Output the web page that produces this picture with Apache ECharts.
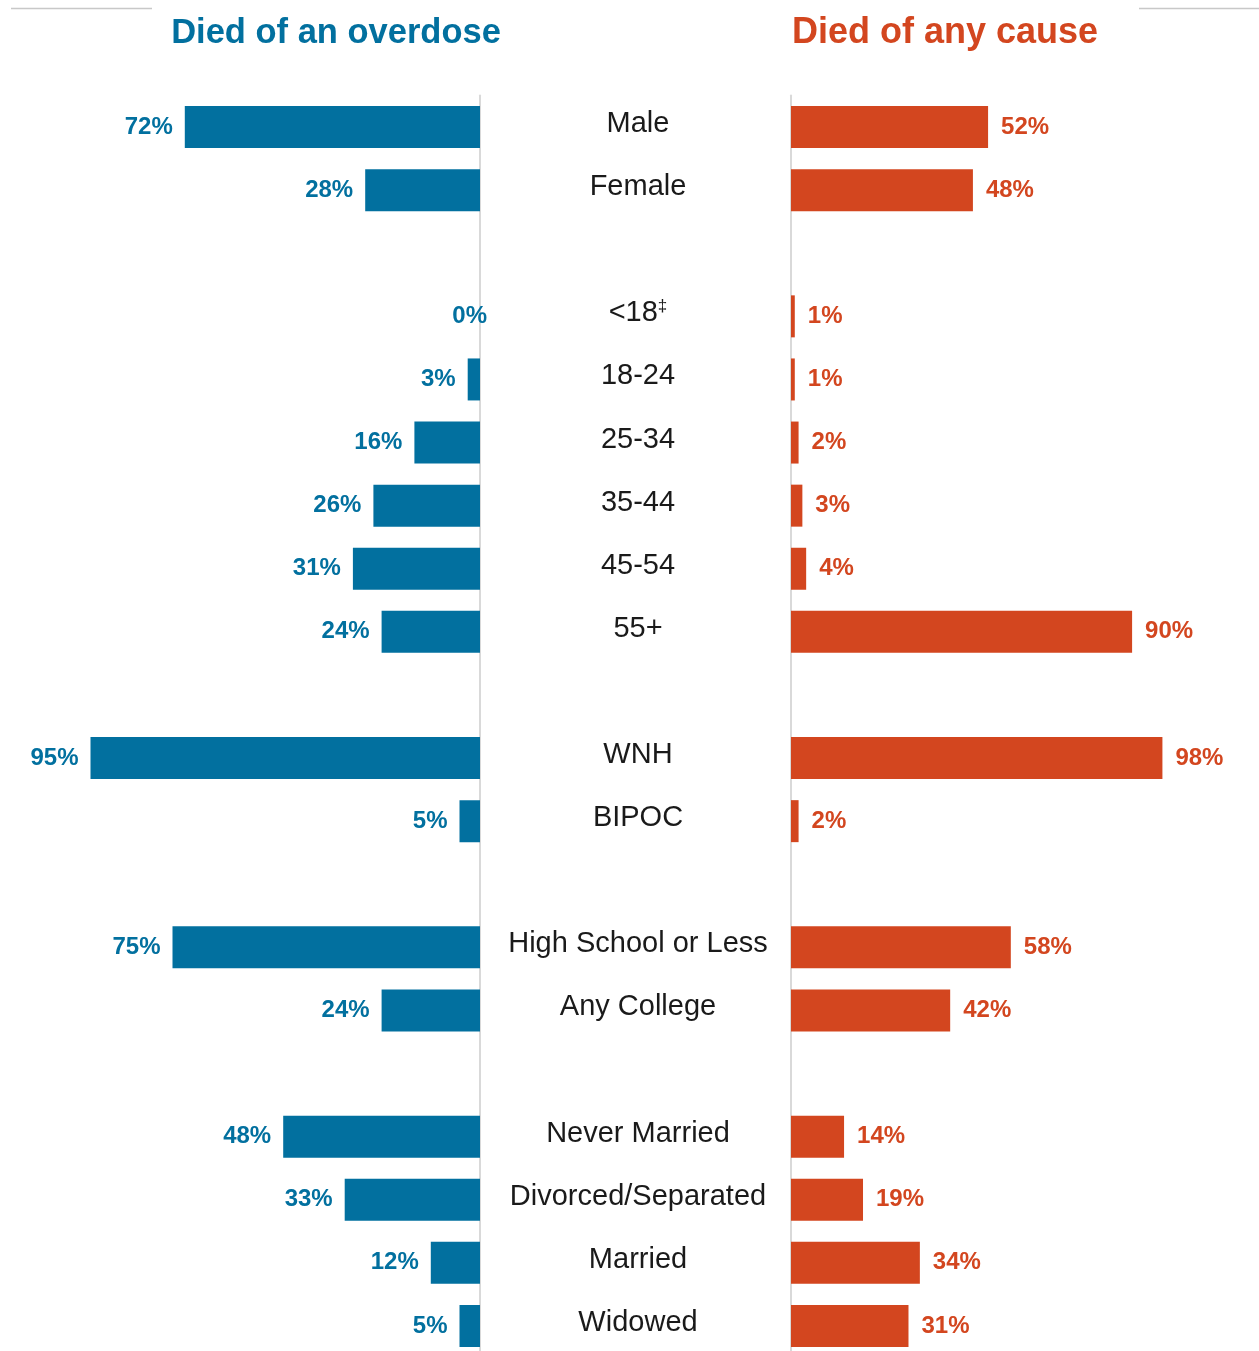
<!DOCTYPE html>
<html>
<head>
<meta charset="utf-8">
<script src="https://cdn.jsdelivr.net/npm/echarts@6/dist/echarts.min.js"></script>
<style>
html,body{margin:0;padding:0;background:#fff;}
#chart{width:1259px;height:1351px;}
</style>
</head>
<body>
<div id="chart"></div>
<script>
// Categories (null = spacer row between groups)
const categories = ['Male','Female',null,'<18‡','18-24','25-34','35-44','45-54','55+',null,'WNH','BIPOC',null,'High School or Less','Any College',null,'Never Married','Divorced/Separated','Married','Widowed'];
// Percent of people who died of an overdose
const overdose = [72,28,null,0,3,16,26,31,24,null,95,5,null,75,24,null,48,33,12,5];
// Percent of people who died of any cause
const anyCause = [52,48,null,1,1,2,3,4,90,null,98,2,null,58,42,null,14,19,34,31];
const titles = ['Died of an overdose','Died of any cause'];

const BLUE = '#02709f';
const ORANGE = '#d3461f';
const axisData = categories.map((c,i)=> c === null ? 'gap' + i : c);
const toData = arr => arr.map(v => v === null ? '-' : (v === 0 ? {value:0, label:{distance:-7}} : v));

const chart = echarts.init(document.getElementById('chart'), null, {renderer:'canvas'});
const gridTop = 95.5, gridH = 1262;
const option = {
  animation:false,
  backgroundColor:'#fff',
  grid:[
    {left:70, width:410, top:gridTop, height:gridH, outerBoundsMode:'none', containLabel:false},
    {left:791, width:379, top:gridTop, height:gridH, outerBoundsMode:'none', containLabel:false}
  ],
  xAxis:[
    {gridIndex:0, type:'value', min:0, max:100, inverse:true, show:false},
    {gridIndex:1, type:'value', min:0, max:100, show:false}
  ],
  yAxis:[
    {gridIndex:0, type:'category', data:axisData, inverse:true, position:'right',
     axisLine:{show:true, lineStyle:{color:'#d9d9d9', width:2}},
     axisTick:{show:false}, splitLine:{show:false},
     axisLabel:{show:true, margin:158, align:'center', color:'#1a1a1a',
       fontFamily:'Liberation Sans', fontSize:29, padding:[0,0,6,0],
       formatter: v => v.indexOf('gap') === 0 ? '' : (v === '<18‡' ? '<18{sup|‡}' : v),
       rich:{sup:{fontSize:17, color:'#1a1a1a', fontFamily:'Liberation Sans', verticalAlign:'top', padding:[0,0,14,0]}}
     }},
    {gridIndex:1, type:'category', data:axisData, inverse:true, position:'left',
     axisLine:{show:true, lineStyle:{color:'#d9d9d9', width:2}},
     axisTick:{show:false}, splitLine:{show:false}, axisLabel:{show:false}}
  ],
  series:[
    {type:'bar', xAxisIndex:0, yAxisIndex:0, data:toData(overdose), barWidth:42,
     itemStyle:{color:BLUE},
     label:{show:true, position:'left', distance:12, color:BLUE, fontFamily:'Liberation Sans',
       fontWeight:'bold', fontSize:24, padding:[6,0,0,0], formatter:p => p.value + '%'}},
    {type:'bar', xAxisIndex:1, yAxisIndex:1, data:toData(anyCause), barWidth:42,
     itemStyle:{color:ORANGE},
     label:{show:true, position:'right', distance:13, color:ORANGE, fontFamily:'Liberation Sans',
       fontWeight:'bold', fontSize:24, padding:[6,0,0,0], formatter:p => p.value + '%'}}
  ],
  graphic:[
    {type:'text', x:336, y:33, style:{text:titles[0], fill:BLUE, font:'bold 34.5px "Liberation Sans"', align:'center', verticalAlign:'middle'}},
    {type:'text', x:945, y:33, style:{text:titles[1], fill:ORANGE, font:'bold 36px "Liberation Sans"', align:'center', verticalAlign:'middle'}},
    {type:'line', shape:{x1:11, y1:8.5, x2:152, y2:8.5}, style:{stroke:'#c8c8c8', lineWidth:1.5}},
    {type:'line', shape:{x1:1139, y1:8.5, x2:1259, y2:8.5}, style:{stroke:'#c8c8c8', lineWidth:1.5}}
  ]
};
chart.setOption(option);
</script>
</body>
</html>
